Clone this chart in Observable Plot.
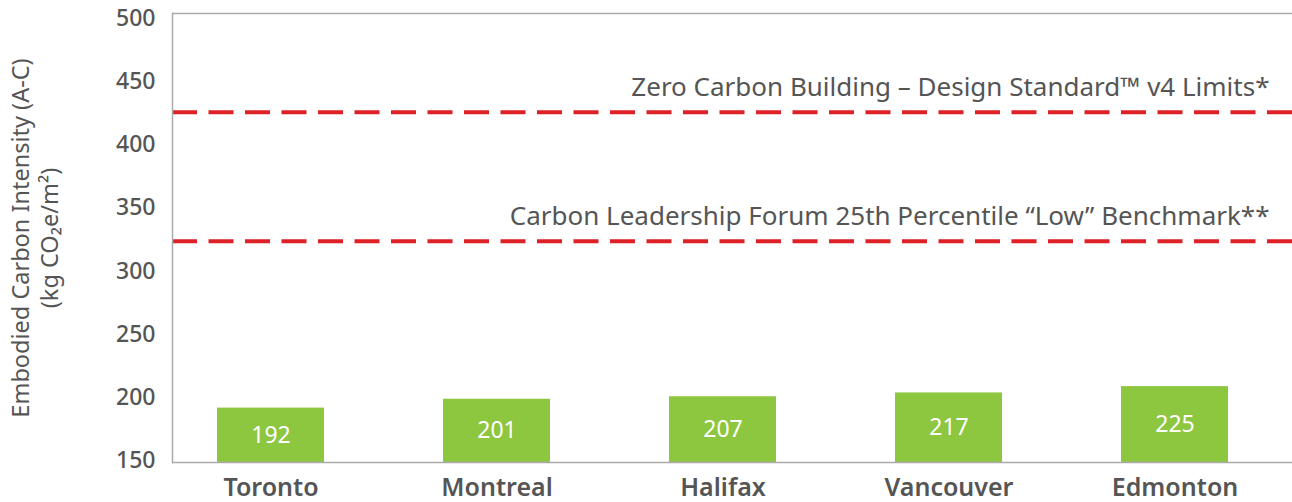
<!DOCTYPE html>
<html><head><meta charset="utf-8">
<script src="https://cdn.jsdelivr.net/npm/d3@7"></script>
<script src="https://cdn.jsdelivr.net/npm/@observablehq/plot@0.6"></script>
<style>html,body{margin:0;padding:0;background:#fff;overflow:hidden}</style>
</head><body><div id="chart"></div>
<script>
const cities = ["Toronto", "Montreal", "Halifax", "Vancouver", "Edmonton"];
const barValues = [193, 200, 202, 205, 210];
const barLabels = ["192", "201", "207", "217", "225"];
const refValues = [427, 325];
const refLabels = [
  "Zero Carbon Building – Design Standard™ v4 Limits*",
  "Carbon Leadership Forum 25th Percentile “Low” Benchmark**"
];
const yTicks = [150, 200, 250, 300, 350, 400, 450, 500];
const yDomain = [150, 505];
const yTitle = ["Embodied Carbon Intensity (A-C)", "(kg CO₂e/m²)"];

const bars = cities.map((c, i) => ({city: c, value: barValues[i], label: barLabels[i]}));
const refs = refValues.map((v, i) => ({value: v, label: refLabels[i]}));

const chart = Plot.plot({
  width: 1292, height: 502,
  marginLeft: 172, marginRight: 0, marginTop: 13, marginBottom: 40,
  style: {fontFamily: "'Noto Sans', sans-serif", background: "#fff"},
  x: {domain: cities, paddingInner: 0.527, paddingOuter: 0.238, align: 0.41, label: null},
  y: {domain: yDomain, label: null},
  marks: [
    Plot.barY(bars, {x: "city", y1: yDomain[0], y2: "value", fill: "#8DC63F"}),
    Plot.text(bars, {x: "city", y: d => (yDomain[0] + d.value) / 2, text: "label", fill: "white", fontSize: 23}),
    Plot.ruleY(refs, {y: "value", stroke: "#DD2127", strokeWidth: 4, strokeDasharray: "25,11.5"}),
    Plot.text(refs, {y: "value", text: "label", frameAnchor: "right", textAnchor: "end", lineAnchor: "bottom", dx: -23, dy: -16.5, fontSize: 26, fill: "#555"}),
    Plot.ruleY(yDomain, {stroke: "#aaa", strokeWidth: 1.5}),
    Plot.frame({anchor: "left", stroke: "#aaa", strokeWidth: 1.5}),
    Plot.axisY({ticks: yTicks, tickSize: 0, tickPadding: 17, fontSize: 23, fontWeight: 500, fill: "#555", dy: -1.5}),
    Plot.axisX({tickSize: 0, tickPadding: 16, fontSize: 25, fontWeight: 600, fill: "#555"}),
    Plot.text([yTitle.join("\n")], {frameAnchor: "left", textAnchor: "middle", rotate: -90, dx: -138.5, fontSize: 23.5, lineHeight: 1.23, fill: "#555"})
  ]
});
document.getElementById("chart").appendChild(chart);
</script>
</body></html>
